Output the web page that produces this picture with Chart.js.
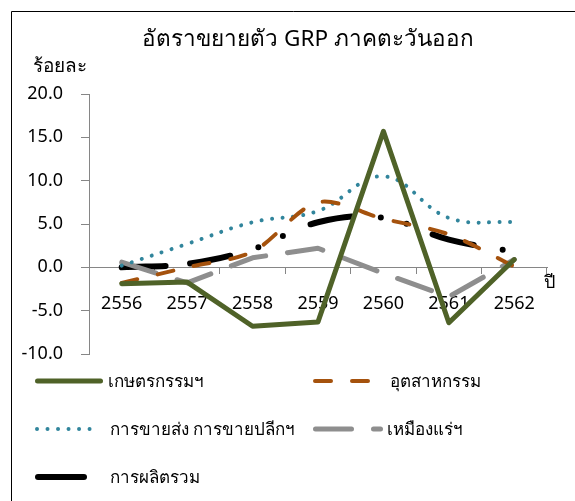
<!DOCTYPE html>
<html>
<head>
<meta charset="utf-8">
<script src="https://cdn.jsdelivr.net/npm/chart.js@4.4.1/dist/chart.umd.min.js"></script>
<style>
  html, body { margin: 0; padding: 0; background: #fff; }
  #wrap { width: 575px; height: 501px; position: relative; }
</style>
</head>
<body>
<div id="wrap"><canvas id="grpChart" width="575" height="501"></canvas></div>
<script>
// ข้อมูล
const years = ['2556', '2557', '2558', '2559', '2560', '2561', '2562'];
const agri = [-1.9, -1.7, -6.8, -6.3, 15.7, -6.4, 0.9];
const industry = [-1.8, 0.0, 1.8, 7.5, 5.6, 3.8, 0.1];
const trade = [0.2, 2.7, 5.2, 6.5, 10.5, 5.7, 5.2];
const mining = [0.6, -1.8, 1.1, 2.2, -0.7, -3.4, 0.9];
const total = [0.0, 0.4, 2.1, 5.2, 5.7, 3.2, 1.8];
const yTicks = [-10, -5, 0, 5, 10, 15, 20];

const FONT = '"Noto Sans", "DejaVu Sans", sans-serif';
const AXIS = '#868686';

// ตำแหน่ง legend (สองคอลัมน์)
const legendSlots = [
    { x1: 35, x2: 103, y: 381, tx: 108 },
    { x1: 313, x2: 370, y: 381, tx: 390 },
    { x1: 35, x2: 100, y: 429, tx: 110 },
    { x1: 313, x2: 383, y: 429, tx: 387 },
    { x1: 35, x2: 87, y: 477, tx: 110 }
];

const decor = {
    id: 'decor',
    beforeDraw(chart) {
        const c = chart.ctx;
        c.save();
        c.fillStyle = '#fff';
        c.fillRect(0, 0, chart.width, chart.height);
        // กรอบ
        c.strokeStyle = '#000';
        c.lineWidth = 1;
        c.beginPath();
        c.moveTo(11.5, chart.height);
        c.lineTo(11.5, 11.5);
        c.lineTo(chart.width, 11.5);
        c.stroke();
        c.restore();
    },
    afterDraw(chart) {
        const c = chart.ctx;
        c.save();
        c.fillStyle = '#000';
        c.textBaseline = 'alphabetic';
        c.font = '22.5px ' + FONT;
        c.textAlign = 'center';
        c.fillText('อัตราขยายตัว GRP ภาคตะวันออก', 308, 46);
        c.font = '19px ' + FONT;
        c.textAlign = 'left';
        c.fillText('ร้อยละ', 33, 72);
        c.font = '18px ' + FONT;
        c.textAlign = 'center';
        c.fillText('ปี', 549, 288);

        // legend
        chart.data.datasets.forEach((ds, i) => {
            const s = legendSlots[i];
            const w = ds.borderWidth;
            c.strokeStyle = ds.borderColor;
            c.lineWidth = w;
            c.lineCap = 'round';
            c.setLineDash(i === 4 ? [] : (ds.borderDash || []));
            c.lineDashOffset = 0;
            c.beginPath();
            c.moveTo(s.x1 + w / 2, s.y);
            c.lineTo(s.x2 - w / 2, s.y);
            c.stroke();
            c.setLineDash([]);
            c.fillStyle = '#000';
            c.textAlign = 'left';
            c.textBaseline = 'middle';
            c.font = '17px ' + FONT;
            c.fillText(ds.label, s.tx, s.y + 1);
        });
        c.restore();
    }
};

new Chart(document.getElementById('grpChart'), {
    type: 'line',
    data: {
        labels: years,
        datasets: [
            { label: 'เกษตรกรรมฯ', data: agri, borderColor: '#4f6228', borderWidth: 5, tension: 0 },
            { label: 'อุตสาหกรรม', data: industry, borderColor: '#a5520d', borderWidth: 4, borderDash: [16, 21], tension: 0.3 },
            { label: 'การขายส่ง การขายปลีกฯ', data: trade, borderColor: '#31859c', borderWidth: 4, borderDash: [0.01, 10.5], tension: 0.4 },
            { label: 'เหมืองแร่ฯ', data: mining, borderColor: '#8e8e8e', borderWidth: 5, borderDash: [36, 22], tension: 0 },
            // เส้นประยาว-จุด-จุด ตามภาพต้นฉบับ
            { label: 'การผลิตรวม', data: total, borderColor: '#000000', borderWidth: 6,
              borderDash: [44, 24.4, 41.2, 29.1, 0, 27, 0, 30.3, 41.8, 29.3, 0, 26.3, 0, 28.3, 42.3, 29.6, 0, 200], tension: 0.4 }
        ].map(d => Object.assign({ pointRadius: 0, pointHoverRadius: 0, fill: false, borderCapStyle: 'round', borderJoinStyle: 'round' }, d))
    },
    options: {
        responsive: false,
        animation: false,
        layout: { padding: { left: 0, right: 28, top: 94, bottom: 147 } },
        plugins: { legend: { display: false }, title: { display: false }, tooltip: { enabled: false } },
        scales: {
            x: {
                type: 'category',
                offset: true,
                position: { y: 0 },
                grid: { drawOnChartArea: false, offset: true, tickLength: 6, color: AXIS },
                border: { color: AXIS, width: 1 },
                ticks: { font: { size: 18, family: FONT }, color: '#000', padding: 20, maxRotation: 0, autoSkip: false },
                afterFit: s => { s.height = 0; }
            },
            y: {
                min: -10,
                max: 20,
                afterBuildTicks: s => { s.ticks = yTicks.map(v => ({ value: v })); },
                grid: { drawOnChartArea: false, tickLength: 8, color: AXIS },
                border: { color: AXIS, width: 1 },
                ticks: { font: { size: 18, family: FONT }, color: '#000', padding: 18, callback: v => v.toFixed(1) },
                afterFit: s => { s.width = 89; }
            }
        }
    },
    plugins: [decor]
});
</script>
</body>
</html>
